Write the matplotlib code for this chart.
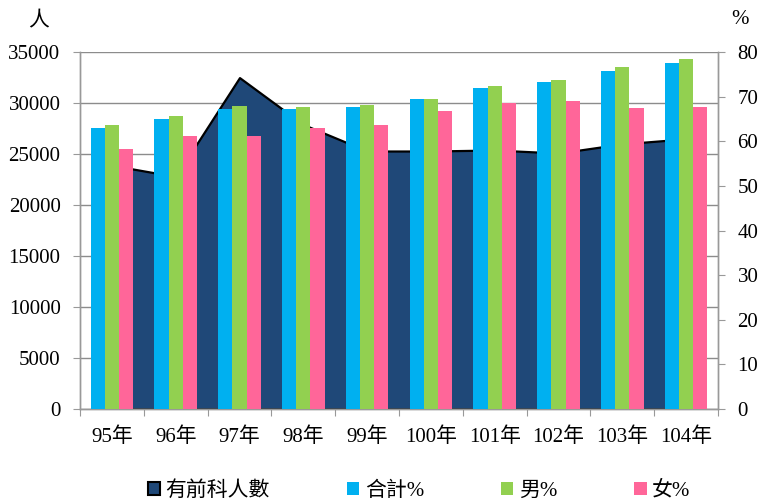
import numpy as np
import matplotlib
matplotlib.use("Agg")
import matplotlib.pyplot as plt
from matplotlib.patches import Patch

FONT = ["Liberation Serif", "Noto Sans CJK TC"]
plt.rcParams['font.family'] = FONT

years = ["95年", "96年", "97年", "98年", "99年", "100年", "101年", "102年", "103年", "104年"]
persons = [23900, 22800, 32500, 27900, 25300, 25300, 25400, 25100, 26000, 26500]
total_pct = [63.1, 65.1, 67.2, 67.2, 67.8, 69.4, 71.9, 73.3, 75.7, 77.5]
male_pct = [63.6, 65.6, 68.0, 67.7, 68.1, 69.6, 72.4, 73.7, 76.6, 78.4]
female_pct = [58.3, 61.3, 61.1, 63.0, 63.6, 66.7, 68.5, 69.1, 67.5, 67.7]

AREA = "#1f4878"
BLUE = "#00b0f0"
GREEN = "#92d050"
PINK = "#ff6699"
AXC = "#999999"

fig = plt.figure(figsize=(7.59, 5.01), dpi=100)
ax = fig.add_axes([0.1054, 0.1836, 0.8406, 0.7124])
ax2 = ax.twinx()

x = np.arange(len(years))

# area on the left axis
ax.fill_between(x, 0, persons, facecolor=AREA, edgecolor="black", linewidth=1.6, zorder=2)
ax.set_ylim(0, 35000)
ax.set_yticks(np.arange(0, 35001, 5000))
ax.set_xlim(-0.5, len(years) - 0.5)
ax.yaxis.grid(True, color="#8c8c8c", linewidth=1)
ax.set_axisbelow(True)

# bars on the right axis
w = 0.222
ax2.bar(x - w, total_pct, w, color=BLUE, zorder=3)
ax2.bar(x, male_pct, w, color=GREEN, zorder=3)
ax2.bar(x + w, female_pct, w, color=PINK, zorder=3)
ax2.set_ylim(0, 80)
ax2.set_yticks(np.arange(0, 81, 10))

# category ticks at boundaries, labels at centers
ax.set_xticks(np.arange(-0.5, len(years), 1.0))
ax.set_xticklabels([])
ax.set_xticks(x, minor=True)
ax.set_xticklabels(years, minor=True)
ax.tick_params(axis="x", which="major", length=5, color=AXC, direction="out")
ax.tick_params(axis="x", which="minor", length=0, pad=13, labelsize=15)
ax.tick_params(axis="y", length=5, color=AXC, pad=9, labelsize=15)
ax2.tick_params(axis="y", length=5, color=AXC, pad=9, labelsize=15)

for lab in ax.get_xticklabels(minor=True) + ax.get_yticklabels() + ax2.get_yticklabels():
    lab.set_family(FONT)

for a in (ax, ax2):
    a.spines["top"].set_visible(False)
    for s in ("left", "right", "bottom"):
        a.spines[s].set_color(AXC)
        a.spines[s].set_linewidth(1)

fig.text(39 / 759, 1 - 22 / 501, "人", fontsize=15, ha="center", va="center", family=FONT)
fig.text(740 / 759, 1 - 19 / 501, "%", fontsize=15, ha="center", va="center", family=FONT)

handles = [
    Patch(facecolor=AREA, edgecolor="black", linewidth=1.5),
    Patch(facecolor=BLUE, edgecolor="none"),
    Patch(facecolor=GREEN, edgecolor="none"),
    Patch(facecolor=PINK, edgecolor="none"),
]
labels = ["有前科人數", "合計%", "男%", "女%"]
leg = fig.legend(handles, labels, loc="center", bbox_to_anchor=(419 / 759, 10 / 501),
                 ncol=4, frameon=False, fontsize=15, handlelength=0.6, handleheight=0.6,
                 handletextpad=0.25, columnspacing=3.7)
for t in leg.get_texts():
    t.set_family(FONT)

fig.savefig("out.png", dpi=100)
